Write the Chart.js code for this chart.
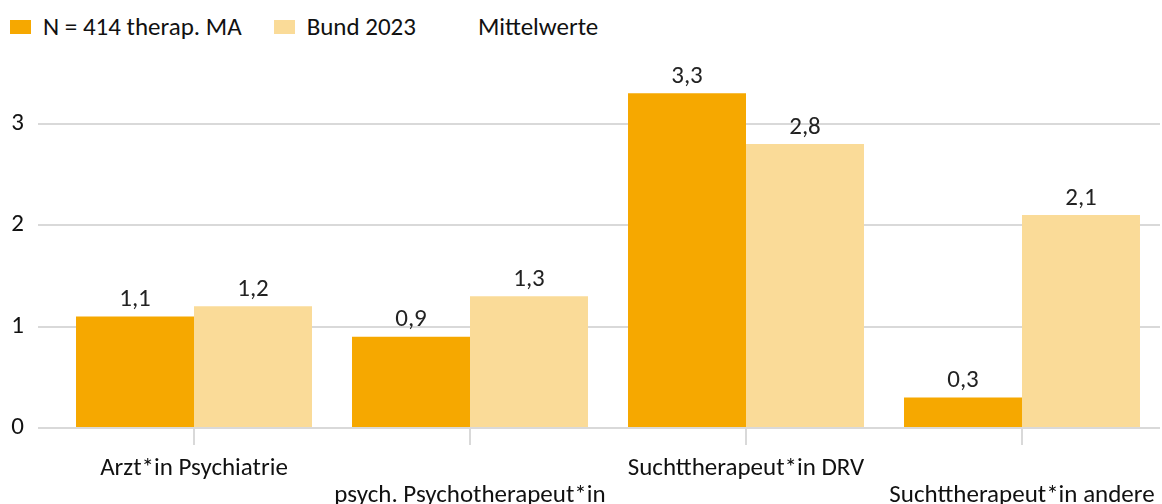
<!DOCTYPE html>
<html>
<head>
<meta charset="utf-8">
<script src="https://cdn.jsdelivr.net/npm/chart.js@4"></script>
<style>
  html, body { margin: 0; padding: 0; background: #fff; }
  body { width: 1162px; height: 504px; position: relative; overflow: hidden;
         font-family: Carlito, "Open Sans", sans-serif; color: #111; }
  #legend { position: absolute; left: 10px; top: 12px; display: flex; align-items: center; font-size: 25px; line-height: 30px; }
  #legend .item { display: flex; align-items: center; margin-right: 32px; }
  #legend .box { width: 21px; height: 14px; margin-right: 12px; }
  #wrap { position: absolute; left: 0; top: 0; width: 1162px; height: 504px; }
</style>
</head>
<body>
<div id="legend"></div>
<div id="wrap"><canvas id="chart"></canvas></div>
<script>
// ---------- DATA ----------
const categories = [
  "Arzt*in Psychiatrie",
  "psych. Psychotherapeut*in",
  "Suchttherapeut*in DRV",
  "Suchttherapeut*in andere"
];
const seriesNames = ["N = 414 therap. MA", "Bund 2023"];
const sampleValues = [1.1, 0.9, 3.3, 0.3];
const bundValues = [1.2, 1.3, 2.8, 2.1];
const yTicks = [0, 1, 2, 3];
const legendNote = "Mittelwerte";

const colors = ["#F6A800", "#FADB98"];
const FONT = 'Carlito, "Open Sans", sans-serif';

// ---------- LEGEND (html) ----------
const legend = document.getElementById("legend");
seriesNames.forEach((name, i) => {
  const it = document.createElement("div");
  it.className = "item";
  it.innerHTML = `<span class="box" style="background:${colors[i]}"></span><span>${name}</span>`;
  legend.appendChild(it);
});
const note = document.createElement("div");
note.className = "item";
note.style.marginLeft = "30px";
note.textContent = legendNote;
legend.appendChild(note);

// staggered x labels: even index on first row, odd on second
const staggered = categories.map((c, i) => i % 2 === 0 ? [c, ""] : ["", c]);

// ---------- VALUE LABELS ----------
const valueLabels = {
  id: "valueLabels",
  afterDatasetsDraw(chart) {
    const ctx = chart.ctx;
    ctx.save();
    ctx.font = "25px " + FONT;
    ctx.fillStyle = "#222";
    ctx.textAlign = "center";
    ctx.textBaseline = "bottom";
    chart.data.datasets.forEach((ds, di) => {
      chart.getDatasetMeta(di).data.forEach((bar, i) => {
        ctx.fillText(ds.data[i].toFixed(1).replace(".", ","), bar.x, bar.y - 4);
      });
    });
    ctx.restore();
  }
};

new Chart(document.getElementById("chart"), {
  type: "bar",
  data: {
    labels: staggered,
    datasets: [
      { label: seriesNames[0], data: sampleValues, backgroundColor: colors[0] },
      { label: seriesNames[1], data: bundValues, backgroundColor: colors[1] }
    ]
  },
  options: {
    responsive: true,
    maintainAspectRatio: false,
    animation: false,
    datasets: { bar: { categoryPercentage: 0.855, barPercentage: 1.0 } },
    layout: { padding: { top: 73, right: 2, left: 0, bottom: 0 } },
    plugins: { legend: { display: false }, tooltip: { enabled: false } },
    scales: {
      x: {
        border: { display: false },
        grid: { offset: false, drawOnChartArea: false, drawTicks: true, tickLength: 17, color: "#d9d9d9", lineWidth: 2 },
        ticks: { autoSkip: false, maxRotation: 0, minRotation: 0, padding: 11, color: "#111",
                 font: { family: FONT, size: 25, lineHeight: 1.05 } },
        afterFit(scale) { scale.height = 76; scale.paddingLeft = 0; scale.paddingRight = 0; }
      },
      y: {
        min: 0, max: 3.5,
        border: { display: false },
        grid: { color: "#d9d9d9", lineWidth: 2, tickLength: 18 },
        afterBuildTicks(scale) { scale.ticks = yTicks.map(v => ({ value: v })); },
        ticks: { padding: 14, color: "#111", font: { family: FONT, size: 25 } },
        afterFit(scale) { scale.width = 56; }
      }
    }
  },
  plugins: [valueLabels]
});
</script>
</body>
</html>
